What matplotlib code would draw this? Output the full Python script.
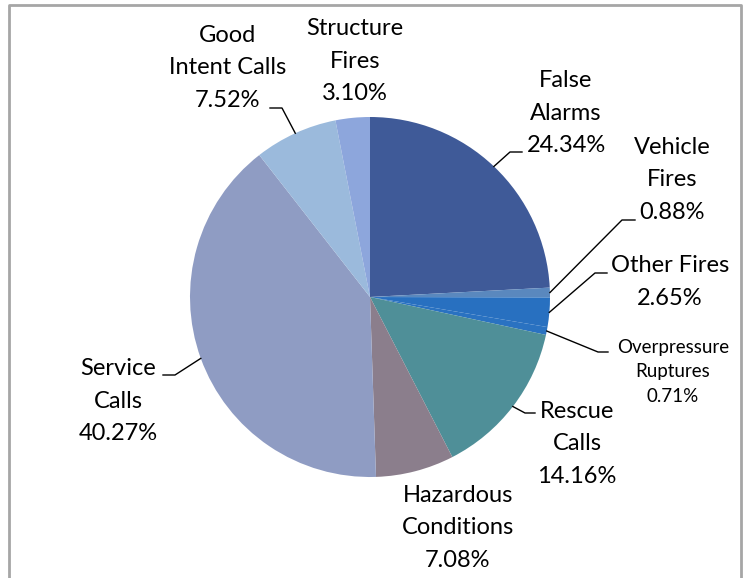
import numpy as np
import matplotlib.pyplot as plt

plt.rcParams['font.family'] = ['Lato', 'DejaVu Sans']

# data
categories = ['False\nAlarms', 'Vehicle\nFires', 'Other Fires', 'Overpressure\nRuptures',
              'Rescue\nCalls', 'Hazardous\nConditions', 'Service\nCalls',
              'Good\nIntent Calls', 'Structure\nFires']
percents = [24.34, 0.88, 2.65, 0.71, 14.16, 7.08, 40.27, 7.52, 3.10]
colors = ['#3F5A98', '#5A88BE', '#2870C0', '#2A72C1', '#4F8F98',
          '#8B7E8C', '#8F9CC3', '#9BBADC', '#8DA6DC']

# label layout (pixel coords of reference image, y down)
label_pos = [(566, 113), (672, 180), (670, 282), (673, 372), (577, 444),
             (458, 528), (118, 401), (228, 68), (355, 61)]
label_size = [17, 17, 17, 13.5, 17, 17, 17, 17, 17]
label_spacing = [1.65, 1.65, 1.65, 1.5, 1.65, 1.65, 1.65, 1.65, 1.65]
# leader elbows: (elbow, end) or None
leaders = [((510, 152), (522, 152)), ((622, 220), (635, 220)),
           ((595, 273), (607, 273)), ((598, 352), (608, 352)),
           ((525, 413), (535, 413)), None, ((175, 375), (163, 375)),
           ((282, 108), (270, 108)), None]

W, H = 747, 578
cx, cy, r = 370, 297, 180

fig = plt.figure(figsize=(W / 100, H / 100), dpi=100)
ax = fig.add_axes([0, 0, 1, 1])

def fy(y):
    return H - y

wedges, _ = ax.pie(percents, colors=colors, startangle=90, counterclock=False,
                   center=(cx, fy(cy)), radius=r, frame=True,
                   wedgeprops=dict(linewidth=0))
ax.set_xlim(0, W)
ax.set_ylim(0, H)
ax.set_aspect('equal')
ax.axis('off')

for w, lab, pct, pos, fs, ls, ld in zip(wedges, categories, percents, label_pos,
                                        label_size, label_spacing, leaders):
    ax.text(pos[0], fy(pos[1]), f'{lab}\n{pct:.2f}%', ha='center', va='center',
            fontsize=fs, linespacing=ls, color='black')
    if ld is not None:
        ang = np.deg2rad((w.theta1 + w.theta2) / 2)
        sx = cx + r * np.cos(ang)
        sy = fy(cy) + r * np.sin(ang)
        (ex, ey), (tx, ty) = ld
        ax.plot([sx, ex, tx], [sy, fy(ey), fy(ty)], color='black', lw=1)

# chart border
ax.plot([9, 9, 741, 741], [0, fy(5), fy(5), 0], color='#A6A6A6', lw=2, clip_on=False)

fig.savefig('out.png', dpi=100)
